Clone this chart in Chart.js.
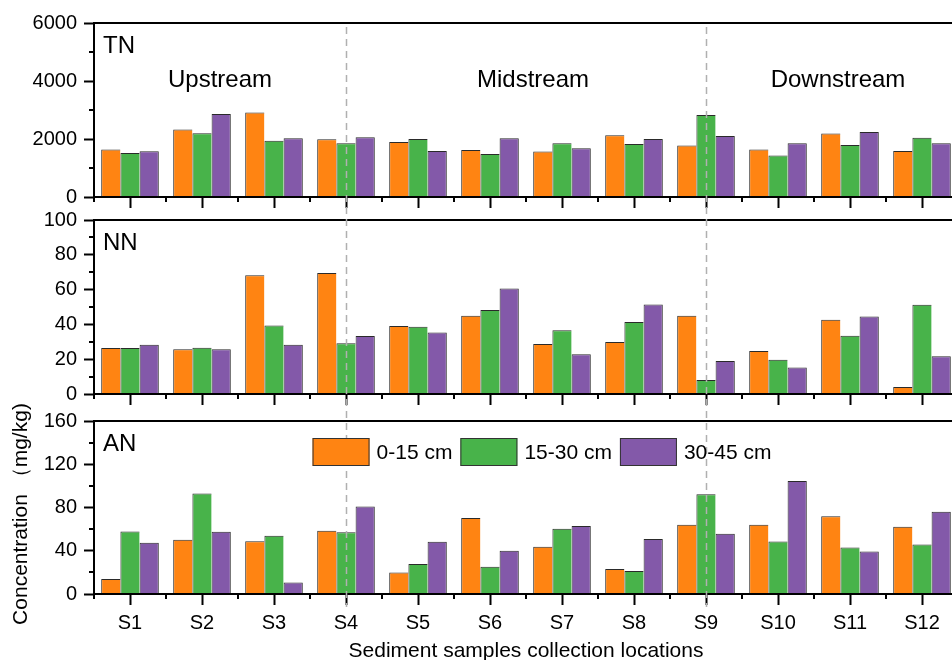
<!DOCTYPE html>
<html>
<head>
<meta charset="utf-8">
<script src="https://cdn.jsdelivr.net/npm/chart.js@4.4.1/dist/chart.umd.min.js"></script>
<style>
  html, body { margin: 0; padding: 0; overflow: hidden; background: #fff; }
  #wrap { position: relative; width: 952px; height: 660px; overflow: hidden; }
  #wrap canvas { position: absolute; left: 0; top: 0; }
</style>
</head>
<body>
<div id="wrap">
  <canvas id="tn" width="960" height="666"></canvas>
  <canvas id="nn" width="960" height="666"></canvas>
  <canvas id="an" width="960" height="666"></canvas>
</div>
<script>
"use strict";

// categories and series
const sites = ['S1', 'S2', 'S3', 'S4', 'S5', 'S6', 'S7', 'S8', 'S9', 'S10', 'S11', 'S12'];
const depthLabels = ['0-15 cm', '15-30 cm', '30-45 cm'];
const depthColors = ['#ff8412', '#48b34a', '#8359a9'];
const regions = ['Upstream', 'Midstream', 'Downstream'];

const tn0_15  = [1640, 2330, 2910, 1990, 1900, 1620, 1570, 2130, 1780, 1640, 2190, 1590];
const tn15_30 = [1520, 2200, 1940, 1850, 2000, 1480, 1850, 1830, 2830, 1430, 1790, 2040];
const tn30_45 = [1580, 2860, 2030, 2060, 1590, 2030, 1680, 2000, 2100, 1850, 2240, 1850];

const nn0_15  = [26.4, 25.7, 68.2, 69.5, 39.1, 45.0, 28.7, 29.9, 45.0, 24.7, 42.7, 4.0];
const nn15_30 = [26.4, 26.6, 39.3, 29.1, 38.7, 48.3, 36.6, 41.4, 8.0, 19.7, 33.5, 51.3];
const nn30_45 = [28.3, 25.7, 28.3, 33.3, 35.4, 60.7, 22.8, 51.5, 19.0, 15.3, 44.6, 21.7];

const an0_15  = [13.8, 50.1, 48.9, 58.4, 19.9, 70.2, 43.7, 23.1, 64.0, 64.0, 72.0, 62.1];
const an15_30 = [57.8, 92.9, 53.8, 57.2, 27.7, 25.2, 60.3, 21.2, 92.3, 48.6, 43.0, 45.8];
const an30_45 = [47.4, 57.5, 10.7, 80.9, 48.3, 40.0, 62.8, 50.8, 55.7, 104.6, 39.3, 76.0];

// y tick labels per panel
const tnTicks = [0, 2000, 4000, 6000];
const nnTicks = [0, 20, 40, 60, 80, 100];
const anTicks = [0, 40, 80, 120, 160];

const FONT = '"Liberation Sans", Arial, Helvetica, sans-serif';
Chart.defaults.font.family = FONT;
Chart.defaults.color = '#000';

const charts = {};

/**
 * Draws the frame top, minor ticks and the panel name
 */
const panelDecor = {
  id: 'panelDecor',
  afterDraw(chart, args, opts) {
    const { ctx, chartArea: a, scales: { x, y } } = chart;
    ctx.save();
    ctx.strokeStyle = '#000';
    ctx.lineWidth = 2;
    ctx.beginPath();
    ctx.moveTo(a.left - 1, a.top);
    ctx.lineTo(a.right + 2, a.top);
    // minor y ticks between labelled ones
    const step = opts.ticks[1] - opts.ticks[0];
    for (let v = step / 2; v < y.max; v += step) {
      const py = Math.round(y.getPixelForValue(v));
      ctx.moveTo(a.left, py);
      ctx.lineTo(a.left - 5, py);
    }
    // minor x ticks on category boundaries
    const half = (x.getPixelForValue(1) - x.getPixelForValue(0)) / 2;
    for (let i = 0; i <= sites.length; i++) {
      const px = Math.round(x.getPixelForValue(i) - half);
      ctx.moveTo(px, a.bottom);
      ctx.lineTo(px, a.bottom + 5);
    }
    ctx.stroke();

    ctx.fillStyle = '#000';
    ctx.font = '24px ' + FONT;
    ctx.textAlign = 'left';
    ctx.textBaseline = 'middle';
    ctx.fillText(opts.name, a.left + 9, a.top + 23);

    if (opts.regions) {
      const b1 = x.getPixelForValue(3);
      const b2 = x.getPixelForValue(8);
      const centers = [(a.left + b1) / 2, (b1 + b2) / 2 + 7, (b2 + a.right) / 2 + 6];
      ctx.textAlign = 'center';
      regions.forEach((r, i) => ctx.fillText(r, centers[i], a.top + 57));
    }
    ctx.restore();
  }
};

/**
 * Dashed separators, legend and y title, drawn on the top canvas
 */
const overlay = {
  id: 'overlay',
  afterDraw(chart) {
    const { ctx, chartArea: a, scales: { x } } = chart;
    ctx.save();
    // dashed region separators at S4 and S9
    const topY = charts.tn ? charts.tn.chartArea.top + 4 : 27;
    ctx.strokeStyle = '#b0b0b0';
    ctx.lineWidth = 1.5;
    ctx.setLineDash([7, 5]);
    [3, 8].forEach(i => {
      const px = Math.round(x.getPixelForValue(i)) + 0.5;
      ctx.beginPath();
      ctx.moveTo(px, topY);
      ctx.lineTo(px, a.bottom + 13);
      ctx.stroke();
    });
    ctx.setLineDash([]);

    // legend
    ctx.font = '21px ' + FONT;
    const boxW = 57, boxH = 28, gap = 7, itemGap = 8;
    const widths = depthLabels.map(t => ctx.measureText(t).width);
    const total = widths.reduce((s, w) => s + boxW + gap + w, 0) + itemGap * (depthLabels.length - 1);
    let lx = (a.left + a.right) / 2 + 16 - total / 2;
    const ly = a.top + 17;
    ctx.textAlign = 'left';
    ctx.textBaseline = 'middle';
    depthLabels.forEach((t, i) => {
      ctx.fillStyle = depthColors[i];
      ctx.fillRect(lx, ly, boxW, boxH);
      ctx.strokeStyle = '#333';
      ctx.lineWidth = 1;
      ctx.strokeRect(lx + 0.5, ly + 0.5, boxW - 1, boxH - 1);
      ctx.fillStyle = '#000';
      ctx.fillText(t, lx + boxW + gap, ly + boxH / 2 + 1);
      lx += boxW + gap + widths[i] + itemGap;
    });

    // y axis title
    ctx.translate(21, 514);
    ctx.rotate(-Math.PI / 2);
    ctx.textAlign = 'center';
    ctx.fillText('Concentration （mg/kg)', 0, 0);
    ctx.restore();
  }
};

function makePanel(id, name, series, ticks, padTop, padBottom, xHeight, isBottom) {
  const datasets = series.map((values, i) => ({
    label: depthLabels[i],
    data: values,
    backgroundColor: depthColors[i],
    borderColor: '#2a2a2a',
    borderWidth: { left: 1, top: 1, right: i === series.length - 1 ? 1 : 0, bottom: 0 },
    borderSkipped: false,
    categoryPercentage: 0.8,
    barPercentage: 1.0
  }));

  const plugins = [panelDecor];
  if (isBottom) plugins.push(overlay);

  charts[id] = new Chart(document.getElementById(id), {
    type: 'bar',
    data: { labels: sites, datasets: datasets },
    plugins: plugins,
    options: {
      responsive: false,
      animation: false,
      events: [],
      layout: { padding: { top: padTop, bottom: padBottom, left: 0, right: 2 } },
      plugins: {
        legend: { display: false },
        tooltip: { enabled: false },
        panelDecor: { name: name, ticks: ticks, regions: id === 'tn' }
      },
      scales: {
        x: {
          offset: true,
          grid: { offset: false, drawOnChartArea: false, tickLength: 11, tickWidth: 2, tickColor: '#000' },
          border: { display: true, color: '#000', width: 2, z: 1 },
          ticks: { display: isBottom, padding: 6, font: { size: 20 }, color: '#000', maxRotation: 0 },
          title: {
            display: isBottom,
            text: 'Sediment samples collection locations',
            font: { size: 21 },
            color: '#000',
            padding: { top: 0, bottom: 2 }
          },
          afterFit: scale => { scale.height = xHeight; }
        },
        y: {
          min: ticks[0],
          max: ticks[ticks.length - 1],
          ticks: {
            stepSize: ticks[1] - ticks[0],
            padding: 7,
            font: { size: 20 },
            color: '#000',
            callback: v => String(v)
          },
          grid: { drawOnChartArea: false, tickLength: 10, tickWidth: 2, tickColor: '#000' },
          border: { display: true, color: '#000', width: 2, z: 1 },
          afterFit: scale => { scale.width = 94; }
        }
      }
    }
  });
}

// canvases are 666 high, chart areas placed by padding
makePanel('tn', 'TN', [tn0_15, tn15_30, tn30_45], tnTicks, 23, 456, 13, false);
makePanel('nn', 'NN', [nn0_15, nn15_30, nn30_45], nnTicks, 220, 259, 13, false);
makePanel('an', 'AN', [an0_15, an15_30, an30_45], anTicks, 421, 0, 72, true);
</script>
</body>
</html>
